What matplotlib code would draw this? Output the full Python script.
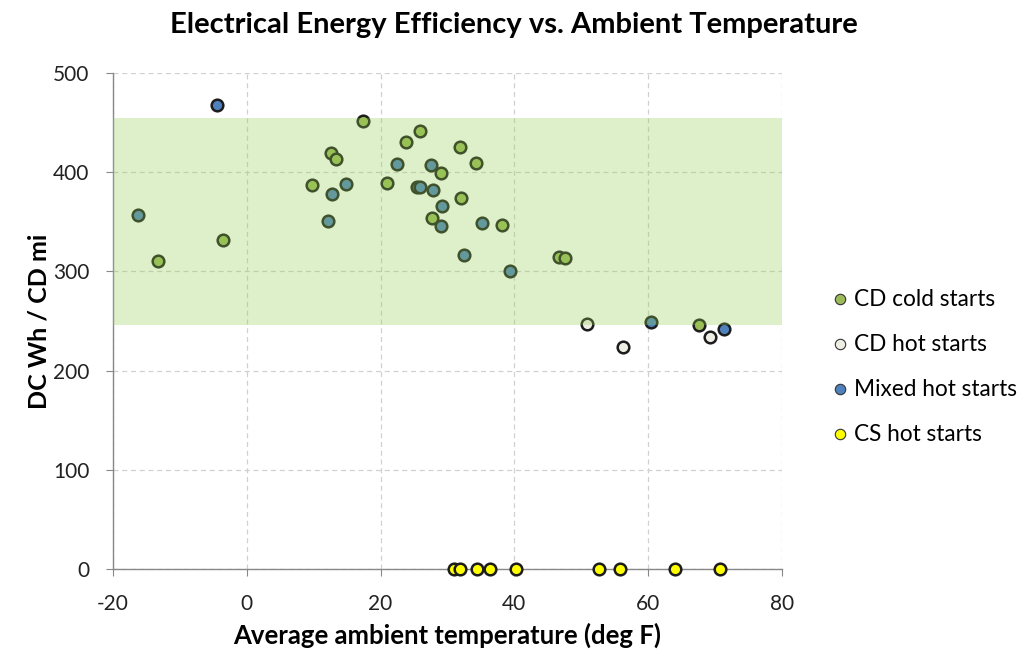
import matplotlib
matplotlib.use("Agg")
import matplotlib.pyplot as plt
from matplotlib.lines import Line2D

plt.rcParams['font.family'] = ['Lato', 'DejaVu Sans']
plt.rcParams['axes.unicode_minus'] = False

# ---- data ----
cold_x = [-13.3, -3.5, 12.6, 13.4, 9.7, 17.3, 25.9, 23.8, 31.8, 34.3, 29.1, 20.9, 32.0, 27.7, 38.2, 46.7, 47.6, 67.6]
cold_y = [310, 332, 419, 413, 387, 452, 442, 430, 425, 409, 399, 389, 374, 354, 347, 315, 314, 246]

hot_x = [50.8, 56.3, 69.3]
hot_y = [247, 224, 234]

mixed_x = [-4.5, -16.2, 14.9, 12.7, 12.2, 22.5, 27.5, 25.5, 25.9, 27.8, 29.2, 29.0, 35.2, 32.4, 39.4, 60.4, 71.3]
mixed_y = [468, 357, 388, 378, 351, 408, 407, 385, 385, 382, 366, 346, 349, 317, 300, 249, 242]

cs_x = [31.0, 31.9, 34.4, 36.3, 40.3, 52.7, 55.8, 64.0, 70.8]
cs_y = [0, 0, 0, 0, 0, 0, 0, 0, 0]

band_low, band_high = 246, 455

series_labels = ["CD cold starts", "CD hot starts", "Mixed hot starts", "CS hot starts"]
series_colors = ["#9bbb59", "#eeeee4", "#4f81bd", "#ffff00"]

x_ticks = [-20, 0, 20, 40, 60, 80]
y_ticks = [0, 100, 200, 300, 400, 500]

# ---- figure ----
fig = plt.figure(figsize=(10.27, 6.55), dpi=100)
ax = fig.add_axes([0.110, 0.1313, 0.6514, 0.7572])

edge = "#1c1c1c"
s = 70
for xs, ys, c in zip([cold_x, hot_x, mixed_x, cs_x], [cold_y, hot_y, mixed_y, cs_y], series_colors):
    ax.scatter(xs, ys, s=s, facecolor=c, edgecolor=edge, linewidth=1.8, zorder=3, clip_on=False)

ax.axhspan(band_low, band_high, color=(146/255, 208/255, 80/255), alpha=0.3, lw=0, zorder=4)

ax.set_xlim(-20, 80)
ax.set_ylim(0, 500)
ax.set_xticks(x_ticks)
ax.set_yticks(y_ticks)
ax.grid(True, color="#d0d0d0", linestyle=(0, (4, 3)), linewidth=0.9, zorder=0)
ax.set_axisbelow(True)
for sp in ["top", "right"]:
    ax.spines[sp].set_visible(False)
for sp in ["left", "bottom"]:
    ax.spines[sp].set_color("#888888")
    ax.spines[sp].set_linewidth(1.0)
ax.tick_params(axis="both", colors="#888888", labelcolor="#222222", labelsize=15, length=5, direction="out")
ax.tick_params(axis="x", pad=13)
ax.tick_params(axis="y", pad=12)

ax.set_xlabel("Average ambient temperature (deg F)", fontsize=18.5, fontweight="bold", labelpad=6)
ax.set_ylabel("DC Wh / CD mi", fontsize=18, fontweight="bold", labelpad=2)
fig.text(0.5, 0.962, "Electrical Energy Efficiency vs. Ambient Temperature", ha="center", va="center",
         fontsize=21, fontweight="bold")

handles = [Line2D([], [], marker="o", linestyle="none", markersize=7.5, markerfacecolor=c,
                  markeredgecolor="#333333", markeredgewidth=0.8) for c in series_colors]
fig.legend(handles, series_labels, loc="center left", bbox_to_anchor=(0.79, 0.439), frameon=False,
           fontsize=16.3, labelspacing=1.06, handlelength=0.7, handletextpad=0.3)

fig.savefig("out.png", dpi=100)
